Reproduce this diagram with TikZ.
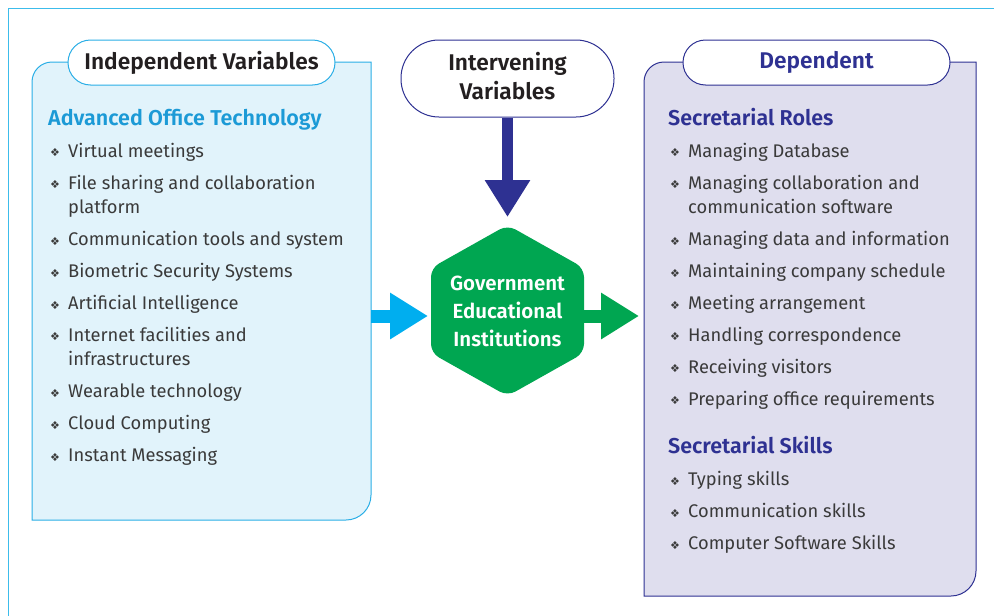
\documentclass[tikz,border=0pt]{standalone}
\usepackage{fontspec}
\setmainfont{Fira Sans}[BoldFont={Fira Sans SemiBold}]
\newfontfamily\symfont{DejaVu Sans}
\usetikzlibrary{arrows.meta}
\definecolor{framecol}{HTML}{3CBCEB}
\definecolor{lbfill}{HTML}{E1F3FB}
\definecolor{lbdraw}{HTML}{2AAEE6}
\definecolor{hdblue}{HTML}{1C9AD6}
\definecolor{navy}{HTML}{2E3192}
\definecolor{rbfill}{HTML}{DFDEEE}
\definecolor{hexgreen}{HTML}{00A651}
\definecolor{arrowblue}{HTML}{00AEEF}
\definecolor{itemgray}{HTML}{3A3A3A}
\definecolor{titlegray}{HTML}{231F20}
\begin{document}
\begin{tikzpicture}[x=1pt,y=-1pt,
  itemtext/.style={anchor=base west, inner sep=0pt, font=\fontsize{18.3}{20}\selectfont, text=itemgray},
  bul/.style={inner sep=0pt, font=\symfont\fontsize{11}{11}\selectfont, text=itemgray},
  headtext/.style={anchor=base west, inner sep=0pt, font=\bfseries\fontsize{21.5}{22}\selectfont},
  pill/.style={draw, fill=white, line width=1pt, inner sep=0pt,
    font=\bfseries\fontsize{22.7}{29}\selectfont, align=center},
  pilltext/.style={inner sep=0pt, align=center, font=\bfseries\fontsize{22.7}{29}\selectfont},
  hextext/.style={inner sep=0pt, text=white, align=center, font=\bfseries\fontsize{20.5}{28}\selectfont},
  flow/.style={line width=#1}
]
\useasboundingbox (0,0) rectangle (994,616);

% outer frame (left and top edges)
\draw[framecol, line width=1pt] (8,616) -- (8,8) -- (994,8);

% left panel: rounded top-left and bottom-right corners
\coordinate (lbE) at (371,316);
\filldraw[fill=lbfill, draw=lbdraw, line width=1pt]
  (32,520) -- (32,82) .. controls (32,70.95) and (40.95,62) .. (52,62)
  -- (371,62) -- (371,495) .. controls (371,508.8) and (359.8,520) .. (346,520)
  -- cycle;

% right panel
\coordinate (rbW) at (644,316);
\filldraw[fill=rbfill, draw=navy, line width=1pt]
  (644,596) -- (644,82) .. controls (644,70.95) and (652.95,62) .. (664,62)
  -- (976,62) -- (976,571) .. controls (976,584.8) and (964.8,596) .. (951,596)
  -- cycle;

% panel titles
\node[pill, draw=lbdraw, text=titlegray, minimum width=267pt, minimum height=45pt,
  rounded corners=22.5pt] (indep) at (201.5,62.5) {Independent Variables};
\node[pill, draw=navy, text=navy, minimum width=267pt, minimum height=45pt,
  rounded corners=22.5pt] (dep) at (816.5,62.5) {Dependent};
\node[pill, minimum width=213pt, minimum height=77pt, draw=navy,
  rounded corners=38pt] (iv) at (507.5,78.5) {};
\node[pilltext, text=titlegray] (ivtext) at (507.5,76) {Intervening\\Variables};

% central hexagon
\coordinate (hexN) at (507.5,225);
\coordinate (hexS) at (507.5,396);
\coordinate (hexW) at (431,316);
\coordinate (hexE) at (584,316);
\fill[hexgreen, rounded corners=9pt]
  (507.5,225) -- (584,268) -- (584,353) -- (507.5,396) -- (431,353) -- (431,268) -- cycle;
\node[hextext] (hex) at (507.5,311) {Government\\Educational\\Institutions};

% flow arrows
\draw[navy, flow=11pt, -{Triangle[length=37pt,width=43pt]}, shorten >=8pt] (iv.south) -- (hexN);
\draw[arrowblue, flow=13pt, -{Triangle[length=38pt,width=44pt]}, shorten >=3pt] (lbE) -- (hexW);
\draw[hexgreen, flow=13pt, -{Triangle[length=38pt,width=44pt]}, shorten >=5pt] (hexE) -- (rbW);

% independent variables
\node[headtext, text=hdblue] (aot) at (48,125) {Advanced Office Technology};
\node[bul] (b1) at (55,153) {❖};  \node[itemtext] (i1) at (68,157) {Virtual meetings};
\node[bul] (b2) at (55,185) {❖};  \node[itemtext] (i2) at (68,189) {File sharing and collaboration};
\node[itemtext] (i2b) at (68,213.5) {platform};
\node[bul] (b3) at (55,241.5) {❖}; \node[itemtext] (i3) at (68,245.5) {Communication tools and system};
\node[bul] (b4) at (55,273.5) {❖}; \node[itemtext] (i4) at (68,277.5) {Biometric Security Systems};
\node[bul] (b5) at (55,305.5) {❖}; \node[itemtext] (i5) at (68,309.5) {Artificial Intelligence};
\node[bul] (b6) at (55,337) {❖};   \node[itemtext] (i6) at (68,341) {Internet facilities and};
\node[itemtext] (i6b) at (68,365.5) {infrastructures};
\node[bul] (b7) at (55,393.5) {❖}; \node[itemtext] (i7) at (68,397.5) {Wearable technology};
\node[bul] (b8) at (55,425.5) {❖}; \node[itemtext] (i8) at (68,429.5) {Cloud Computing};
\node[bul] (b9) at (55,457.5) {❖}; \node[itemtext] (i9) at (68,461.5) {Instant Messaging};

% dependent variables
\node[headtext, text=navy] (roles) at (668,125) {Secretarial Roles};
\node[bul] (r1b) at (675,153) {❖};   \node[itemtext] (r1) at (688,157) {Managing Database};
\node[bul] (r2b) at (675,185) {❖};   \node[itemtext] (r2) at (688,189) {Managing collaboration and};
\node[itemtext] (r2c) at (688,213.5) {communication software};
\node[bul] (r3b) at (675,241.5) {❖}; \node[itemtext] (r3) at (688,245.5) {Managing data and information};
\node[bul] (r4b) at (675,273.5) {❖}; \node[itemtext] (r4) at (688,277.5) {Maintaining company schedule};
\node[bul] (r5b) at (675,305.5) {❖}; \node[itemtext] (r5) at (688,309.5) {Meeting arrangement};
\node[bul] (r6b) at (675,337) {❖};   \node[itemtext] (r6) at (688,341) {Handling correspondence};
\node[bul] (r7b) at (675,369) {❖};   \node[itemtext] (r7) at (688,373) {Receiving visitors};
\node[bul] (r8b) at (675,401) {❖};   \node[itemtext] (r8) at (688,405) {Preparing office requirements};

\node[headtext, text=navy] (skills) at (668,453) {Secretarial Skills};
\node[bul] (s1b) at (675,481.5) {❖}; \node[itemtext] (s1) at (688,485.5) {Typing skills};
\node[bul] (s2b) at (675,513.5) {❖}; \node[itemtext] (s2) at (688,517.5) {Communication skills};
\node[bul] (s3b) at (675,545.5) {❖}; \node[itemtext] (s3) at (688,549.5) {Computer Software Skills};
\end{tikzpicture}
\end{document}
